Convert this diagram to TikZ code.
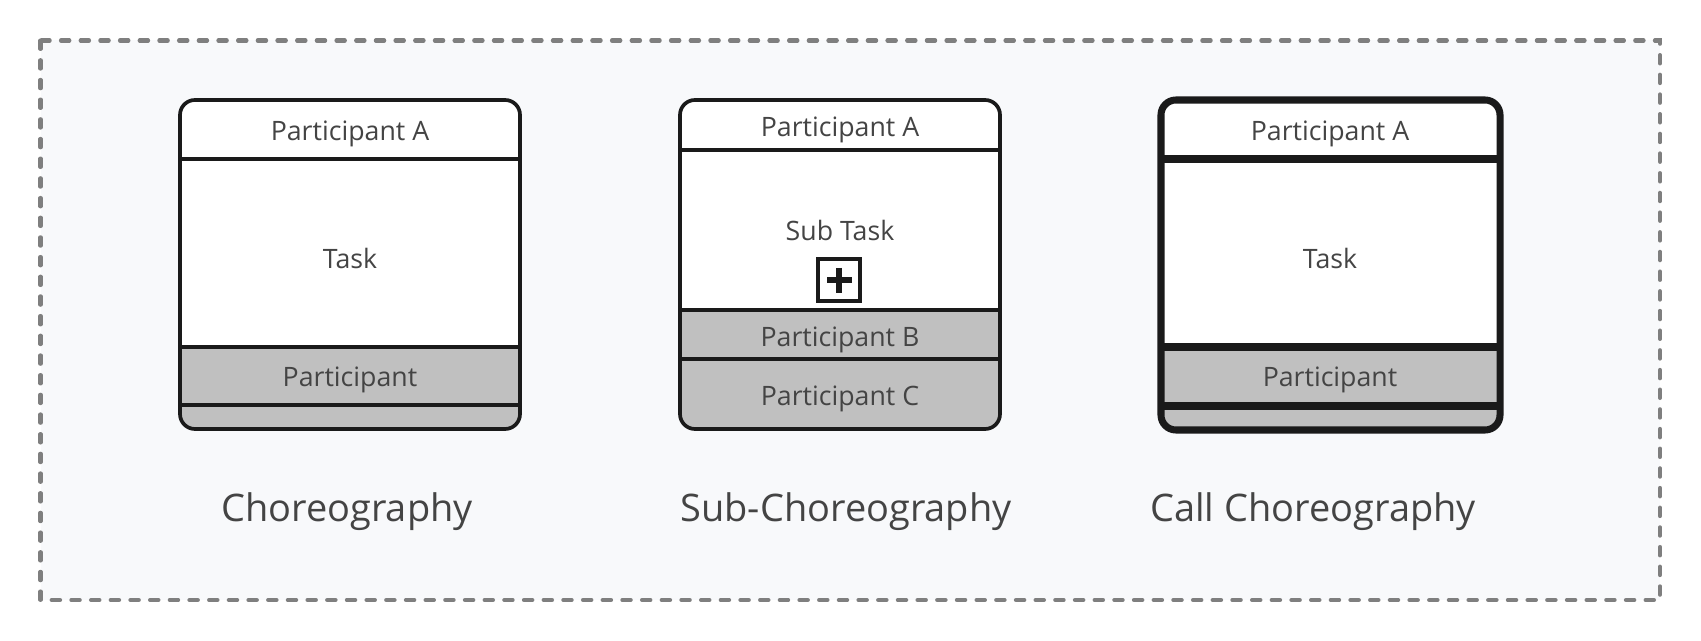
\documentclass[tikz,border=0pt]{standalone}
\usepackage{fontspec}
\setmainfont{Open Sans}
\usepackage{tikz}

\definecolor{framegray}{HTML}{7F7F7F}
\definecolor{panelbg}{HTML}{F8F9FB}
\definecolor{bandgray}{HTML}{C0C0C0}
\definecolor{inkline}{HTML}{1A1A1A}
\definecolor{inktext}{HTML}{444444}

\begin{document}
\begin{tikzpicture}[x=0.02cm, y=-0.02cm,
    cell/.style={text=inktext, font=\fontsize{15.2}{18}\selectfont},
    caption/.style={text=inktext, font=\fontsize{21.6}{26}\selectfont, anchor=base},
    thinline/.style={draw=inkline, line width=2.1pt},
    thickline/.style={draw=inkline, line width=4pt},
    roundbox/.style={rounded corners=8.5pt}]
      \useasboundingbox (0,0) rectangle (1701,641);
      \fill[white] (0,0) rectangle (1701,641);

      % the dashed frame
      \draw [fill=panelbg, draw=framegray, line width=2.3pt, line cap=round,
             dash pattern=on 4.8pt off 6.4pt] (40.5,40.5) rectangle (1660,600);

      % Choreography
      \begin{scope}
        \clip [roundbox] (180,100) rectangle (520,429);
        \fill [white] (180,100) rectangle (520,347);
        \fill [bandgray] (180,347) rectangle (520,429);
      \end{scope}
      \draw [thinline] (180,159) -- (520,159);
      \draw [thinline] (180,347) -- (520,347);
      \draw [thinline] (180,405) -- (520,405);
      \draw [thinline, roundbox] (180,100) rectangle (520,429);
      \node[cell](chorPartA) at (350,134){Participant A};
      \node[cell](chorTask) at (350,258){Task};
      \node[cell](chorPart) at (350,380){Participant};
      \node[caption](chorLabel) at (347,522){Choreography};

      % Sub-Choreography
      \begin{scope}
        \clip [roundbox] (680,100) rectangle (1000,429);
        \fill [white] (680,100) rectangle (1000,310);
        \fill [bandgray] (680,310) rectangle (1000,429);
      \end{scope}
      \draw [thinline] (680,150) -- (1000,150);
      \draw [thinline] (680,310) -- (1000,310);
      \draw [thinline] (680,359) -- (1000,359);
      \draw [thinline, roundbox] (680,100) rectangle (1000,429);
      \node[cell](subPartA) at (840,130){Participant A};
      \node[cell](subTask) at (840,230){Sub Task};
      \node[cell](subPartB) at (840,340){Participant B};
      \node[cell](subPartC) at (840,399){Participant C};
      \node[caption](subLabel) at (846,522){Sub-Choreography};

      % the plus marker
      \node[draw=inkline, line width=1.9pt, fill=white, minimum size=42*0.02cm,
            inner sep=0pt](subPlus) at (839,280){};
      \draw [inkline, line width=3.8pt] (827,280) -- (852,280);
      \draw [inkline, line width=3.8pt] (839,268) -- (839,293);

      % Call Choreography
      \begin{scope}
        \clip [roundbox] (1161,100) rectangle (1500,430);
        \fill [white] (1161,100) rectangle (1500,347);
        \fill [bandgray] (1161,347) rectangle (1500,430);
      \end{scope}
      \draw [thickline] (1161,159) -- (1500,159);
      \draw [thickline] (1161,347) -- (1500,347);
      \draw [thickline] (1161,406) -- (1500,406);
      \draw [thickline, roundbox] (1161,100) rectangle (1500,430);
      \node[cell](callPartA) at (1330,134){Participant A};
      \node[cell](callTask) at (1330,258){Task};
      \node[cell](callPart) at (1330,380){Participant};
      \node[caption](callLabel) at (1313,522){Call Choreography};
    \end{tikzpicture}
\end{document}
